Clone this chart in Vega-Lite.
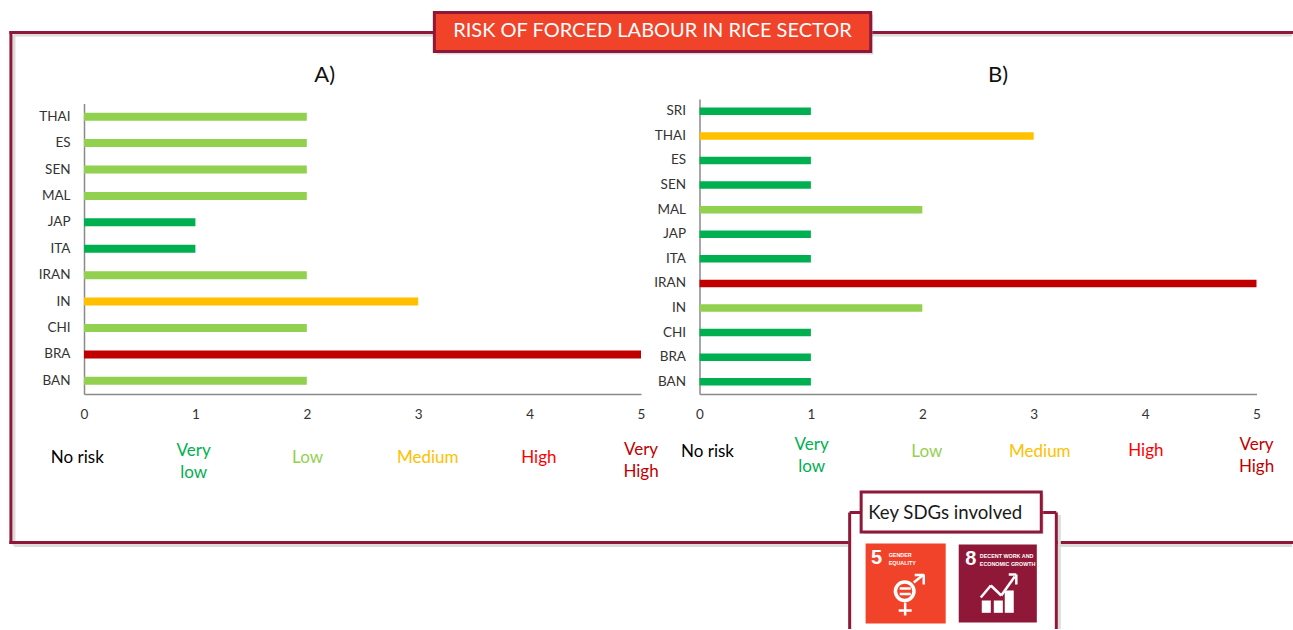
{
"$schema":"https://vega.github.io/schema/vega-lite/v6.json",
"background":"white",
"padding":{"left":8,"top":11,"right":0,"bottom":0},
"bounds":"flush",
"spacing":58.5,
"config":{"view":{"stroke":null},"text":{"font":"Lato"},"axis":{"labelFont":"Lato","labelColor":"#333333","labelFontSize":13.5,"ticks":false,"grid":false,"title":null,"domainColor":"#8a8a8a","domainWidth":1.5,"labelFlush":false}},
"datasets":{
"frameShadow":[{"x":-0.629,"x2":10.845,"y":1.2169,"y2":1.2169},{"x":-0.629,"x2":-0.629,"y":1.2169,"y2":-0.5136},{"x":-0.629,"x2":10.845,"y":-0.5136,"y2":-0.5136}],
"frame":[{"x":-0.656,"x2":10.845,"y":1.2254,"y2":1.2254},{"x":-0.656,"x2":-0.656,"y":1.2254,"y2":-0.5034},{"x":-0.656,"x2":10.845,"y":-0.5034,"y2":-0.5034}],
"bannerShadow":[{"x":3.167,"x2":7.084,"y":1.2864,"y2":1.1508}],
"banner":[{"x":3.145,"x2":7.062,"y":1.2932,"y2":1.161}],
"sdgRules":[{"x":1.348,"x2":3.203,"y":-0.4017,"y2":-0.4017},{"x":1.348,"x2":1.348,"y":-0.4017,"y2":-0.7966},{"x":3.203,"x2":3.203,"y":-0.4017,"y2":-0.7966}],
"gender":[{"x":1.797,"x2":1.896,"y":-0.6593,"y2":-0.6593},{"x":1.797,"x2":1.896,"y":-0.678,"y2":-0.678},{"x":1.846,"x2":1.846,"y":-0.7068,"y2":-0.7508},{"x":1.788,"x2":1.905,"y":-0.7339,"y2":-0.7339},{"x":1.923,"x2":2.013,"y":-0.639,"y2":-0.6119},{"x":1.932,"x2":2.013,"y":-0.6136,"y2":-0.6136},{"x":2.013,"x2":2.013,"y":-0.6119,"y2":-0.6458}],
"growthLine":[{"x":2.525,"x2":2.615,"y":-0.6898,"y2":-0.6492},{"x":2.615,"x2":2.709,"y":-0.6492,"y2":-0.6831},{"x":2.709,"x2":2.83,"y":-0.6831,"y2":-0.6186},{"x":2.776,"x2":2.844,"y":-0.6119,"y2":-0.6119},{"x":2.844,"x2":2.844,"y":-0.6119,"y2":-0.6458}],
"growthBars":[{"x":2.534,"x2":2.615,"y":-0.7,"y2":-0.7417},{"x":2.642,"x2":2.723,"y":-0.7,"y2":-0.7417},{"x":2.74,"x2":2.821,"y":-0.666,"y2":-0.7417}]
},
"hconcat":[
{"width":557,"height":295,
"resolve":{"scale":{"y":"independent"}},
"layer":[
{"data":{"name":"frameShadow"},"mark":{"type":"rule","stroke":"#dcdcdc","strokeWidth":3},
 "encoding":{"x":{"field":"x","type":"quantitative","scale":{"domain":[0,5],"nice":false,"zero":false},"axis":{"values":[0,1,2,3,4,5],"format":"d","labelPadding":13}},"x2":{"field":"x2"},"y":{"field":"y","type":"quantitative","scale":{"domain":[0,1],"range":[295,0],"nice":false,"zero":false},"axis":null},"y2":{"field":"y2"}}},
{"data":{"name":"frame"},"mark":{"type":"rule","stroke":"#8F1737","strokeWidth":3,"strokeCap":"square"},
 "encoding":{"x":{"field":"x","type":"quantitative"},"x2":{"field":"x2"},"y":{"field":"y","type":"quantitative","scale":{"domain":[0,1],"range":[295,0],"nice":false,"zero":false},"axis":null},"y2":{"field":"y2"}}},
{"data":{"name":"bannerShadow"},"mark":{"type":"rect","fill":"#a8a8a8","opacity":0.4},
 "encoding":{"x":{"field":"x","type":"quantitative"},"x2":{"field":"x2"},"y":{"field":"y","type":"quantitative","scale":{"domain":[0,1],"range":[295,0],"nice":false,"zero":false},"axis":null},"y2":{"field":"y2"}}},
{"data":{"name":"banner"},"mark":{"type":"rect","fill":"#F1432A","stroke":"#8F1737","strokeWidth":3},
 "encoding":{"x":{"field":"x","type":"quantitative"},"x2":{"field":"x2"},"y":{"field":"y","type":"quantitative","scale":{"domain":[0,1],"range":[295,0],"nice":false,"zero":false},"axis":null},"y2":{"field":"y2"}}},
{"data":{"values":[{"pos":5.103,"at":1.2322,"label":"RISK OF FORCED LABOUR IN RICE SECTOR"}]},"mark":{"type":"text","fontSize":20,"color":"white","align":"center","baseline":"middle"},
 "encoding":{"x":{"field":"pos","type":"quantitative"},"y":{"field":"at","type":"quantitative","scale":{"domain":[0,1],"range":[295,0],"nice":false,"zero":false},"axis":null},"text":{"field":"label"}}},
{"data":{"values":[{"pos":2.161,"at":1.08,"label":"A)"}]},"mark":{"type":"text","fontSize":22,"color":"#111111","align":"center","baseline":"middle"},
 "encoding":{"x":{"field":"pos","type":"quantitative"},"y":{"field":"at","type":"quantitative","scale":{"domain":[0,1],"range":[295,0],"nice":false,"zero":false},"axis":null},"text":{"field":"label"}}},
{"data":{"values":[
{"country":"THAI","risk":2,"level":"Low"},{"country":"ES","risk":2,"level":"Low"},{"country":"SEN","risk":2,"level":"Low"},{"country":"MAL","risk":2,"level":"Low"},{"country":"JAP","risk":1,"level":"Very low"},{"country":"ITA","risk":1,"level":"Very low"},{"country":"IRAN","risk":2,"level":"Low"},{"country":"IN","risk":3,"level":"Medium"},{"country":"CHI","risk":2,"level":"Low"},{"country":"BRA","risk":5,"level":"Very High"},{"country":"BAN","risk":2,"level":"Low"}]},
 "mark":{"type":"bar","size":8},
 "encoding":{"x":{"field":"risk","type":"quantitative"},
 "y":{"field":"country","type":"nominal","sort":null,"scale":{"range":[4.5,295],"paddingInner":0.7,"paddingOuter":0.35},"axis":{"labelPadding":14,"orient":"left"}},
 "color":{"field":"level","type":"nominal","legend":null,"scale":{"domain":["No risk","Very low","Low","Medium","High","Very High"],"range":["#000000","#00B050","#92D050","#FFC000","#FF0000","#C00000"]}}}},
{"data":{"values":[
{"pos":-0.06,"at":-0.2186,"label":"No risk","level":"No risk"},{"pos":0.984,"at":-0.1949,"label":"Very\nlow","level":"Very low"},{"pos":2.007,"at":-0.2186,"label":"Low","level":"Low"},{"pos":3.085,"at":-0.2186,"label":"Medium","level":"Medium"},{"pos":4.083,"at":-0.2186,"label":"High","level":"High"},{"pos":5,"at":-0.1915,"label":"Very\nHigh","level":"Very High"}]},
 "mark":{"type":"text","fontSize":17,"align":"center","baseline":"middle","lineBreak":"\n","lineHeight":22},
 "encoding":{"x":{"field":"pos","type":"quantitative"},"y":{"field":"at","type":"quantitative","scale":{"domain":[0,1],"range":[295,0],"nice":false,"zero":false},"axis":null},"text":{"field":"label"},"color":{"field":"level","type":"nominal","legend":null}}}
]},
{"width":557,"height":295,
"resolve":{"scale":{"y":"independent"}},
"layer":[
{"data":{"values":[{"x":1.339,"x2":3.208,"y":-0.398,"y2":-0.7966}]},"mark":{"type":"rect","fill":"white"},
 "encoding":{"x":{"field":"x","type":"quantitative","scale":{"domain":[0,5],"nice":false,"zero":false},"axis":{"values":[0,1,2,3,4,5],"format":"d","labelPadding":13}},"x2":{"field":"x2"},"y":{"field":"y","type":"quantitative","scale":{"domain":[0,1],"range":[295,0],"nice":false,"zero":false},"axis":null},"y2":{"field":"y2"}}},
{"data":{"values":[{"x":3.23,"x2":3.23,"y":-0.41,"y2":-0.7966}]},"mark":{"type":"rule","stroke":"#dcdcdc","strokeWidth":3},
 "encoding":{"x":{"field":"x","type":"quantitative"},"x2":{"field":"x2"},"y":{"field":"y","type":"quantitative","scale":{"domain":[0,1],"range":[295,0],"nice":false,"zero":false},"axis":null},"y2":{"field":"y2"}}},
{"data":{"name":"sdgRules"},"mark":{"type":"rule","stroke":"#8F1737","strokeWidth":3},
 "encoding":{"x":{"field":"x","type":"quantitative"},"x2":{"field":"x2"},"y":{"field":"y","type":"quantitative","scale":{"domain":[0,1],"range":[295,0],"nice":false,"zero":false},"axis":null},"y2":{"field":"y2"}}},
{"data":{"values":[{"x":1.473,"x2":3.09,"y":-0.3407,"y2":-0.4745}]},"mark":{"type":"rect","fill":"#a8a8a8","opacity":0.4},
 "encoding":{"x":{"field":"x","type":"quantitative"},"x2":{"field":"x2"},"y":{"field":"y","type":"quantitative","scale":{"domain":[0,1],"range":[295,0],"nice":false,"zero":false},"axis":null},"y2":{"field":"y2"}}},
{"data":{"values":[{"x":1.451,"x2":3.068,"y":-0.3322,"y2":-0.4678}]},"mark":{"type":"rect","fill":"white","stroke":"#8F1737","strokeWidth":3},
 "encoding":{"x":{"field":"x","type":"quantitative"},"x2":{"field":"x2"},"y":{"field":"y","type":"quantitative","scale":{"domain":[0,1],"range":[295,0],"nice":false,"zero":false},"axis":null},"y2":{"field":"y2"}}},
{"data":{"values":[{"pos":2.206,"at":-0.4017,"label":"Key SDGs involved"}]},"mark":{"type":"text","fontSize":18.6,"color":"#1a1a1a","align":"center","baseline":"middle"},
 "encoding":{"x":{"field":"pos","type":"quantitative"},"y":{"field":"at","type":"quantitative","scale":{"domain":[0,1],"range":[295,0],"nice":false,"zero":false},"axis":null},"text":{"field":"label"}}},
{"data":{"values":[{"x":1.491,"x2":2.21,"y":-0.5068,"y2":-0.778}]},"mark":{"type":"rect","fill":"#F1432A"},
 "encoding":{"x":{"field":"x","type":"quantitative"},"x2":{"field":"x2"},"y":{"field":"y","type":"quantitative","scale":{"domain":[0,1],"range":[295,0],"nice":false,"zero":false},"axis":null},"y2":{"field":"y2"}}},
{"data":{"values":[{"x":2.327,"x2":3.028,"y":-0.5102,"y2":-0.7746}]},"mark":{"type":"rect","fill":"#8F1737"},
 "encoding":{"x":{"field":"x","type":"quantitative"},"x2":{"field":"x2"},"y":{"field":"y","type":"quantitative","scale":{"domain":[0,1],"range":[295,0],"nice":false,"zero":false},"axis":null},"y2":{"field":"y2"}}},
{"data":{"values":[{"pos":1.59,"at":-0.5576,"label":"5"},{"pos":2.435,"at":-0.561,"label":"8"}]},"mark":{"type":"text","fontSize":20,"fontWeight":"bold","font":"Liberation Sans","color":"white","align":"center","baseline":"middle"},
 "encoding":{"x":{"field":"pos","type":"quantitative"},"y":{"field":"at","type":"quantitative","scale":{"domain":[0,1],"range":[295,0],"nice":false,"zero":false},"axis":null},"text":{"field":"label"}}},
{"data":{"values":[{"pos":1.698,"at":-0.5441,"label":"GENDER\nEQUALITY"},{"pos":2.516,"at":-0.5475,"label":"DECENT WORK AND\nECONOMIC GROWTH"}]},"mark":{"type":"text","fontSize":5.4,"fontWeight":"bold","font":"Liberation Sans","color":"white","align":"left","baseline":"middle","lineBreak":"\n","lineHeight":8.5},
 "encoding":{"x":{"field":"pos","type":"quantitative"},"y":{"field":"at","type":"quantitative","scale":{"domain":[0,1],"range":[295,0],"nice":false,"zero":false},"axis":null},"text":{"field":"label"}}},
{"data":{"values":[{"x":1.842,"y":-0.6685}]},"mark":{"type":"point","shape":"circle","size":346,"stroke":"white","strokeWidth":3.5,"fill":null,"opacity":1},
 "encoding":{"x":{"field":"x","type":"quantitative"},"y":{"field":"y","type":"quantitative","scale":{"domain":[0,1],"range":[295,0],"nice":false,"zero":false},"axis":null}}},
{"data":{"name":"gender"},"mark":{"type":"rule","stroke":"white","strokeWidth":2.5},
 "encoding":{"x":{"field":"x","type":"quantitative"},"x2":{"field":"x2"},"y":{"field":"y","type":"quantitative","scale":{"domain":[0,1],"range":[295,0],"nice":false,"zero":false},"axis":null},"y2":{"field":"y2"}}},
{"data":{"name":"growthBars"},"mark":{"type":"rect","fill":"white"},
 "encoding":{"x":{"field":"x","type":"quantitative"},"x2":{"field":"x2"},"y":{"field":"y","type":"quantitative","scale":{"domain":[0,1],"range":[295,0],"nice":false,"zero":false},"axis":null},"y2":{"field":"y2"}}},
{"data":{"name":"growthLine"},"mark":{"type":"rule","stroke":"white","strokeWidth":2.5},
 "encoding":{"x":{"field":"x","type":"quantitative"},"x2":{"field":"x2"},"y":{"field":"y","type":"quantitative","scale":{"domain":[0,1],"range":[295,0],"nice":false,"zero":false},"axis":null},"y2":{"field":"y2"}}},
{"data":{"values":[{"pos":2.68,"at":1.08,"label":"B)"}]},"mark":{"type":"text","fontSize":22,"color":"#111111","align":"center","baseline":"middle"},
 "encoding":{"x":{"field":"pos","type":"quantitative"},"y":{"field":"at","type":"quantitative","scale":{"domain":[0,1],"range":[295,0],"nice":false,"zero":false},"axis":null},"text":{"field":"label"}}},
{"data":{"values":[
{"country":"SRI","risk":1,"level":"Very low"},{"country":"THAI","risk":3,"level":"Medium"},{"country":"ES","risk":1,"level":"Very low"},{"country":"SEN","risk":1,"level":"Very low"},{"country":"MAL","risk":2,"level":"Low"},{"country":"JAP","risk":1,"level":"Very low"},{"country":"ITA","risk":1,"level":"Very low"},{"country":"IRAN","risk":5,"level":"Very High"},{"country":"IN","risk":2,"level":"Low"},{"country":"CHI","risk":1,"level":"Very low"},{"country":"BRA","risk":1,"level":"Very low"},{"country":"BAN","risk":1,"level":"Very low"}]},
 "mark":{"type":"bar","size":7.5},
 "encoding":{"x":{"field":"risk","type":"quantitative"},
 "y":{"field":"country","type":"nominal","sort":null,"scale":{"paddingInner":0.7,"paddingOuter":0.35},"axis":{"labelPadding":14,"orient":"left"}},
 "color":{"field":"level","type":"nominal","legend":null,"scale":{"domain":["No risk","Very low","Low","Medium","High","Very High"],"range":["#000000","#00B050","#92D050","#FFC000","#FF0000","#C00000"]}}}},
{"data":{"values":[
{"pos":0.072,"at":-0.1983,"label":"No risk","level":"No risk"},{"pos":1.006,"at":-0.1712,"label":"Very\nlow","level":"Very low"},{"pos":2.04,"at":-0.1983,"label":"Low","level":"Low"},{"pos":3.055,"at":-0.1983,"label":"Medium","level":"Medium"},{"pos":4.007,"at":-0.1949,"label":"High","level":"High"},{"pos":5,"at":-0.1712,"label":"Very\nHigh","level":"Very High"}]},
 "mark":{"type":"text","fontSize":17,"align":"center","baseline":"middle","lineBreak":"\n","lineHeight":22},
 "encoding":{"x":{"field":"pos","type":"quantitative"},"y":{"field":"at","type":"quantitative","scale":{"domain":[0,1],"range":[295,0],"nice":false,"zero":false},"axis":null},"text":{"field":"label"},"color":{"field":"level","type":"nominal","legend":null}}}
]}
]}
